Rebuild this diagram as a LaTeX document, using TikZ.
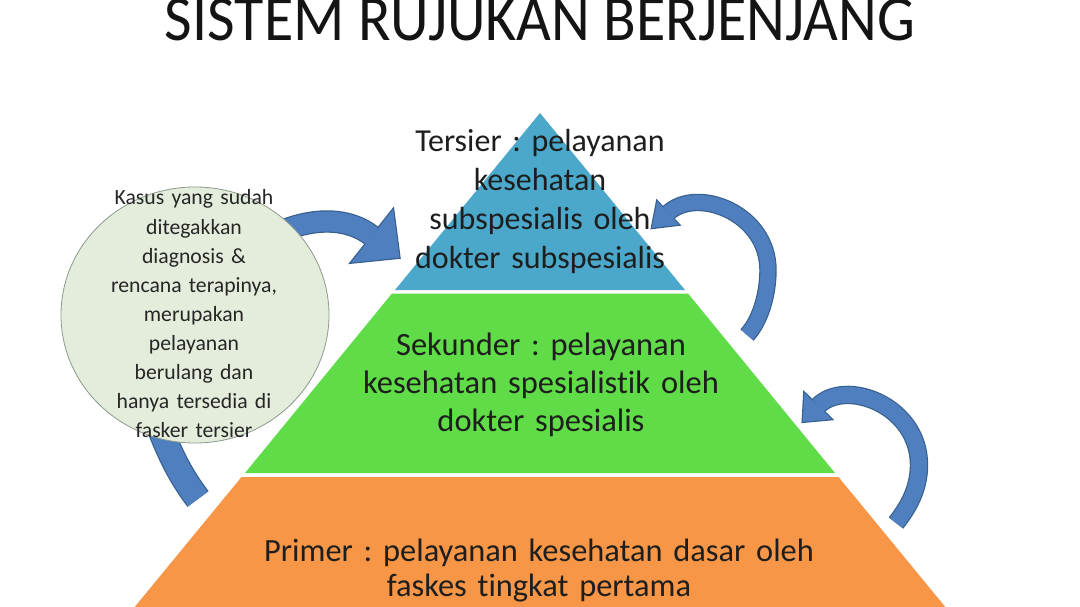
\documentclass[tikz,border=0pt]{standalone}
\usepackage{fontspec}
\setmainfont{Carlito}[Ligatures=NoCommon]
\usetikzlibrary{calc,shapes.geometric}
\lineskiplimit=-1000pt
\frenchspacing
\definecolor{tierblue}{HTML}{4BA8CA}
\definecolor{tiergreen}{HTML}{60DC48}
\definecolor{tierorange}{HTML}{F79646}
\definecolor{arrowfill}{HTML}{4F7FBE}
\definecolor{arrowline}{HTML}{37608F}
\definecolor{circfill}{HTML}{E4EDDB}
\definecolor{circline}{HTML}{8E9A8E}
\definecolor{textdark}{HTML}{1E1E1E}
% #1 shaft path, #2 shaft width, #3 outline shaft width, #4 base coord, #5 control before base, #6 head half width, #7 head length
\newcommand{\bluearrow}[7]{%
  \draw[arrowline, line width=#3pt] #1;
  \filldraw[arrowline, line width=2.4pt, line join=miter]
    ($(#4)!#6pt!90:(#5)$) -- ($(#4)!-#7pt!(#5)$) -- ($(#4)!#6pt!-90:(#5)$) -- cycle;
  \draw[arrowfill, line width=#2pt] #1;
  \fill[arrowfill]
    ($(#4)!#6pt!90:(#5)$) -- ($(#4)!-#7pt!(#5)$) -- ($(#4)!#6pt!-90:(#5)$) -- cycle;
}
\begin{document}
\begin{tikzpicture}[x=1pt,y=-1pt,
  tierlabel/.style={inner sep=0pt, anchor=base, align=center, text=textdark},
  tierfill/.style={draw=none},
]
\useasboundingbox (0,0) rectangle (1080,607);
\clip (0,0) rectangle (1080,607);
\fill[white] (0,0) rectangle (1080,607);

% title
\node[inner sep=0pt, anchor=base, text=black!92, font=\fontsize{60}{70}\selectfont\frenchspacing] (title) at (540,41) {\scalebox{1}[1.08]{SISTEM RUJUKAN BERJENJANG}};

% pyramid tiers
\fill[tierfill, tierblue] (540,113) -- (685,290) -- (395,290) -- cycle;
\fill[tierfill, tiergreen] (392,293.5) -- (688,293.5) -- (835,473) -- (245,473) -- cycle;
\fill[tierfill, tierorange] (241.5,477) -- (838.5,477) -- (956,620) -- (124,620) -- cycle;

% arrow anchor points
\coordinate (a1s) at (275,234);
\coordinate (a1c1) at (312,217);
\coordinate (a1c2) at (348,217);
\coordinate (a1b) at (372,236);

\coordinate (a2t) at (747,335);
\coordinate (a2m) at (768,270);
\coordinate (a2c) at (697,186);
\coordinate (a2b) at (668,213);

\coordinate (a3t) at (896,523);
\coordinate (a3m) at (919,465);
\coordinate (a3c) at (845,378);
\coordinate (a3b) at (818,406);

\coordinate (a4t) at (198,499);
\coordinate (a4e) at (150,400);

% circle -> tersier
\bluearrow{(a1s) .. controls (a1c1) and (a1c2) .. (a1b)}{20}{22.4}{a1b}{a1c2}{34}{35}
% sekunder -> tersier
\bluearrow{(a2t) .. controls (760,321) and (768,295) .. (a2m) .. controls (768,213) and (a2c) .. (a2b)}{15}{17.4}{a2b}{a2c}{16}{22}
% primer -> sekunder
\bluearrow{(a3t) .. controls (907,509) and (919,490) .. (a3m) .. controls (919,405) and (a3c) .. (a3b)}{16}{18.4}{a3b}{a3c}{19}{22}
% primer -> circle (head hidden under the circle)
\draw[arrowline, line width=26.4pt] (a4t) .. controls (183,479) and (168,455) .. (a4e);
\draw[arrowfill, line width=24pt] (a4t) .. controls (183,479) and (168,455) .. (a4e);

% tier labels
\node[tierlabel, text width=320pt, font=\fontsize{32}{39}\selectfont\frenchspacing] (tersier) at (540,152)
  {Tersier : pelayanan\\kesehatan\\subspesialis oleh\\dokter subspesialis};
\node[tierlabel, text width=420pt, font=\fontsize{32.5}{38.5}\selectfont\frenchspacing] (sekunder) at (541,355)
  {Sekunder : pelayanan\\kesehatan spesialistik oleh\\dokter spesialis};
\node[tierlabel, text width=600pt, font=\fontsize{32.4}{35}\selectfont\frenchspacing] (primer) at (539,561)
  {Primer : pelayanan kesehatan dasar oleh\\faskes tingkat pertama};

% circle
\node[ellipse, draw=circline, line width=0.8pt, fill=circfill, minimum width=268pt, minimum height=256pt, inner sep=0pt] (circ) at (195,315) {};
\node[inner sep=0pt, anchor=base, align=center, text width=250pt, text=black!85, font=\fontsize{21.7}{29.1}\selectfont\frenchspacing] (circtext) at (194,205)
  {Kasus yang sudah\\ditegakkan\\diagnosis \&\\rencana terapinya,\\merupakan\\pelayanan\\berulang dan\\hanya tersedia di\\fasker tersier};
\end{tikzpicture}
\end{document}
